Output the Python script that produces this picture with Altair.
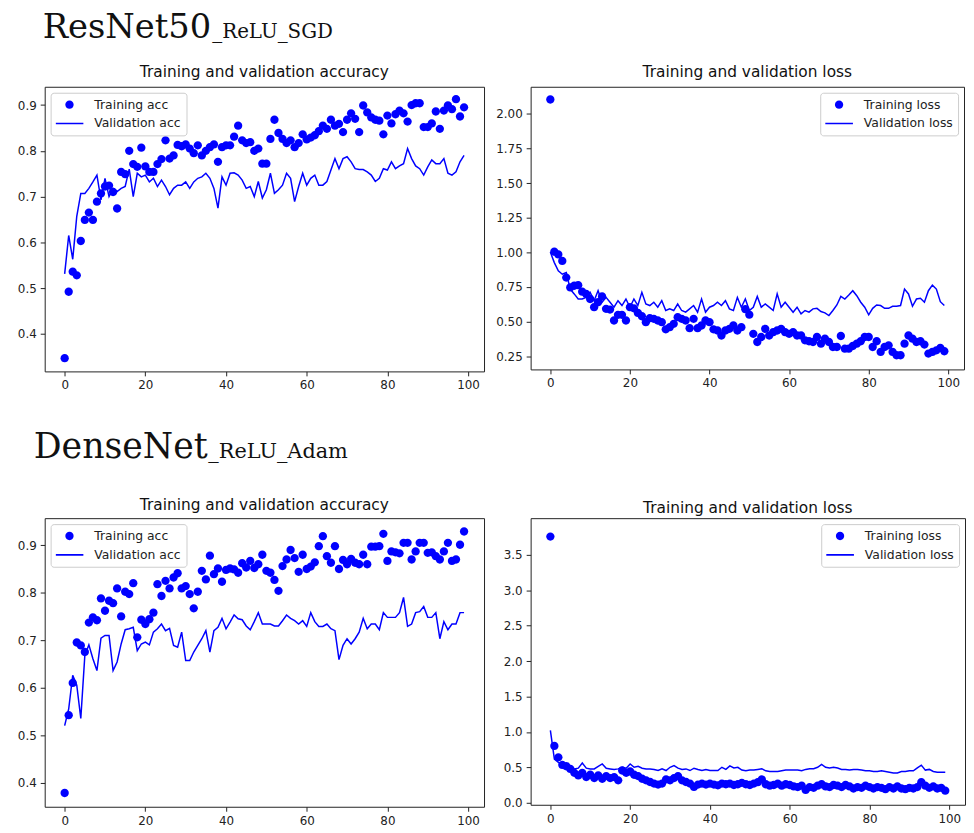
import altair as alt
import pandas as pd

EPOCHS = list(range(100))

RESNET_TRAIN_ACC = [
    0.347, 0.492, 0.536, 0.528, 0.603, 0.649, 0.665, 0.649, 0.689, 0.707,
    0.722, 0.724, 0.710, 0.674, 0.754, 0.749, 0.800, 0.771, 0.765, 0.807,
    0.766, 0.754, 0.754, 0.771, 0.782, 0.823, 0.783, 0.790, 0.813, 0.810,
    0.814, 0.805, 0.795, 0.812, 0.790, 0.800, 0.808, 0.814, 0.776, 0.808,
    0.812, 0.812, 0.831, 0.855, 0.823, 0.817, 0.819, 0.800, 0.805, 0.772,
    0.772, 0.826, 0.868, 0.839, 0.826, 0.817, 0.823, 0.808, 0.817, 0.836,
    0.825, 0.829, 0.834, 0.843, 0.855, 0.848, 0.868, 0.855, 0.859, 0.841,
    0.868, 0.882, 0.870, 0.841, 0.899, 0.884, 0.873, 0.868, 0.866, 0.836,
    0.877, 0.860, 0.880, 0.888, 0.882, 0.864, 0.900, 0.904, 0.904, 0.852,
    0.852, 0.860, 0.886, 0.848, 0.888, 0.899, 0.891, 0.913, 0.875, 0.895,
]
RESNET_VAL_ACC = [
    0.531, 0.615, 0.563, 0.657, 0.707, 0.707, 0.718, 0.732, 0.747, 0.693,
    0.740, 0.700, 0.718, 0.711, 0.718, 0.722, 0.760, 0.700, 0.751, 0.743,
    0.747, 0.732, 0.740, 0.722, 0.736, 0.722, 0.704, 0.718, 0.725, 0.725,
    0.732, 0.718, 0.732, 0.740, 0.743, 0.751, 0.740, 0.718, 0.675, 0.743,
    0.725, 0.751, 0.752, 0.747, 0.736, 0.718, 0.722, 0.700, 0.733, 0.697,
    0.715, 0.751, 0.707, 0.715, 0.725, 0.751, 0.740, 0.689, 0.722, 0.751,
    0.725, 0.740, 0.747, 0.725, 0.725, 0.733, 0.758, 0.783, 0.761, 0.783,
    0.787, 0.776, 0.761, 0.759, 0.759, 0.754, 0.747, 0.733, 0.740, 0.761,
    0.758, 0.776, 0.761, 0.767, 0.772, 0.805, 0.783, 0.767, 0.761, 0.747,
    0.765, 0.780, 0.772, 0.772, 0.783, 0.751, 0.747, 0.754, 0.776, 0.790,
]
RESNET_TRAIN_LOSS = [
    2.103, 1.005, 0.985, 0.938, 0.818, 0.747, 0.759, 0.763, 0.716, 0.700,
    0.663, 0.604, 0.640, 0.682, 0.592, 0.587, 0.508, 0.549, 0.549, 0.508,
    0.604, 0.596, 0.563, 0.539, 0.496, 0.525, 0.520, 0.508, 0.496, 0.444,
    0.460, 0.484, 0.532, 0.520, 0.508, 0.453, 0.520, 0.453, 0.472, 0.508,
    0.496, 0.444, 0.436, 0.400, 0.436, 0.448, 0.472, 0.436, 0.460, 0.590,
    0.550, 0.412, 0.353, 0.389, 0.448, 0.400, 0.424, 0.436, 0.448, 0.424,
    0.412, 0.424, 0.400, 0.400, 0.365, 0.358, 0.353, 0.389, 0.341, 0.377,
    0.353, 0.317, 0.317, 0.396, 0.305, 0.305, 0.324, 0.341, 0.358, 0.389,
    0.389, 0.317, 0.358, 0.281, 0.317, 0.329, 0.281, 0.257, 0.257, 0.341,
    0.400, 0.377, 0.353, 0.358, 0.334, 0.269, 0.281, 0.293, 0.310, 0.286,
]
RESNET_VAL_LOSS = [
    1.002, 0.926, 0.866, 0.842, 0.854, 0.735, 0.700, 0.663, 0.663, 0.675,
    0.711, 0.651, 0.723, 0.640, 0.675, 0.640, 0.604, 0.651, 0.616, 0.663,
    0.604, 0.663, 0.616, 0.711, 0.627, 0.616, 0.640, 0.604, 0.651, 0.580,
    0.592, 0.580, 0.627, 0.580, 0.568, 0.592, 0.616, 0.568, 0.663, 0.568,
    0.604, 0.616, 0.640, 0.616, 0.651, 0.592, 0.580, 0.675, 0.604, 0.663,
    0.580, 0.604, 0.682, 0.604, 0.627, 0.604, 0.580, 0.700, 0.604, 0.640,
    0.604, 0.568, 0.604, 0.556, 0.580, 0.568, 0.592, 0.596, 0.573, 0.563,
    0.544, 0.580, 0.620, 0.682, 0.663, 0.692, 0.723, 0.687, 0.640, 0.604,
    0.549, 0.596, 0.620, 0.616, 0.596, 0.596, 0.611, 0.611, 0.616, 0.735,
    0.700, 0.611, 0.663, 0.668, 0.640, 0.723, 0.763, 0.735, 0.644, 0.616,
]
DENSENET_TRAIN_ACC = [
    0.378, 0.542, 0.610, 0.695, 0.689, 0.675, 0.737, 0.748, 0.742, 0.788,
    0.762, 0.783, 0.778, 0.809, 0.750, 0.802, 0.797, 0.820, 0.706, 0.743,
    0.734, 0.744, 0.758, 0.818, 0.793, 0.825, 0.809, 0.832, 0.841, 0.809,
    0.814, 0.797, 0.767, 0.802, 0.846, 0.828, 0.878, 0.839, 0.851, 0.823,
    0.848, 0.851, 0.849, 0.842, 0.862, 0.853, 0.867, 0.852, 0.860, 0.880,
    0.846, 0.842, 0.827, 0.804, 0.856, 0.870, 0.890, 0.873, 0.844, 0.880,
    0.850, 0.855, 0.864, 0.898, 0.919, 0.877, 0.863, 0.898, 0.850, 0.869,
    0.860, 0.871, 0.863, 0.860, 0.880, 0.860, 0.897, 0.897, 0.898, 0.924,
    0.867, 0.887, 0.885, 0.883, 0.905, 0.905, 0.870, 0.887, 0.905, 0.905,
    0.884, 0.885, 0.877, 0.870, 0.887, 0.905, 0.867, 0.870, 0.901, 0.929,
]
DENSENET_VAL_ACC = [
    0.520, 0.555, 0.626, 0.605, 0.535, 0.668, 0.690, 0.661, 0.636, 0.704,
    0.710, 0.710, 0.636, 0.654, 0.692, 0.722, 0.724, 0.727, 0.678, 0.692,
    0.696, 0.690, 0.717, 0.724, 0.734, 0.720, 0.725, 0.689, 0.685, 0.717,
    0.657, 0.657, 0.675, 0.689, 0.703, 0.720, 0.675, 0.720, 0.727, 0.746,
    0.724, 0.738, 0.753, 0.745, 0.743, 0.730, 0.722, 0.739, 0.758, 0.734,
    0.734, 0.734, 0.730, 0.730, 0.741, 0.753, 0.746, 0.741, 0.734, 0.741,
    0.729, 0.758, 0.739, 0.729, 0.729, 0.734, 0.724, 0.720, 0.659, 0.689,
    0.703, 0.692, 0.703, 0.717, 0.746, 0.724, 0.734, 0.734, 0.722, 0.758,
    0.748, 0.748, 0.748, 0.758, 0.790, 0.729, 0.734, 0.758, 0.760, 0.771,
    0.748, 0.748, 0.758, 0.703, 0.739, 0.722, 0.734, 0.734, 0.758, 0.758,
]
DENSENET_TRAIN_LOSS = [
    3.760, 0.802, 0.640, 0.533, 0.514, 0.477, 0.422, 0.385, 0.422, 0.361,
    0.394, 0.347, 0.385, 0.338, 0.375, 0.347, 0.361, 0.315, 0.454, 0.422,
    0.440, 0.394, 0.375, 0.338, 0.315, 0.292, 0.269, 0.255, 0.269, 0.329,
    0.315, 0.347, 0.375, 0.315, 0.292, 0.269, 0.222, 0.255, 0.269, 0.255,
    0.269, 0.255, 0.245, 0.269, 0.260, 0.270, 0.250, 0.260, 0.280, 0.260,
    0.250, 0.270, 0.290, 0.330, 0.260, 0.240, 0.250, 0.270, 0.240, 0.260,
    0.250, 0.230, 0.220, 0.240, 0.180, 0.220, 0.210, 0.240, 0.260, 0.230,
    0.220, 0.250, 0.240, 0.220, 0.250, 0.230, 0.200, 0.220, 0.210, 0.240,
    0.220, 0.200, 0.220, 0.210, 0.190, 0.220, 0.200, 0.230, 0.200, 0.190,
    0.210, 0.200, 0.220, 0.290, 0.240, 0.210, 0.230, 0.200, 0.210, 0.170,
]
DENSENET_VAL_LOSS = [
    1.020, 0.616, 0.570, 0.547, 0.524, 0.500, 0.477, 0.487, 0.560, 0.487,
    0.477, 0.477, 0.514, 0.547, 0.487, 0.477, 0.468, 0.477, 0.500, 0.487,
    0.547, 0.500, 0.514, 0.487, 0.477, 0.477, 0.468, 0.454, 0.477, 0.454,
    0.500, 0.524, 0.487, 0.468, 0.477, 0.454, 0.487, 0.468, 0.454, 0.468,
    0.454, 0.454, 0.454, 0.500, 0.470, 0.520, 0.490, 0.500, 0.460, 0.450,
    0.460, 0.460, 0.470, 0.480, 0.450, 0.440, 0.440, 0.440, 0.450, 0.460,
    0.460, 0.460, 0.460, 0.450, 0.470, 0.480, 0.480, 0.500, 0.540, 0.500,
    0.490, 0.500, 0.490, 0.470, 0.470, 0.460, 0.470, 0.470, 0.460, 0.450,
    0.450, 0.440, 0.440, 0.450, 0.440, 0.430, 0.420, 0.420, 0.440, 0.440,
    0.450, 0.450, 0.490, 0.530, 0.460, 0.470, 0.440, 0.430, 0.430, 0.430,
]

X_TICKS = [0, 20, 40, 60, 80, 100]
ACC_TICKS = [0.4, 0.5, 0.6, 0.7, 0.8, 0.9]
RESNET_LOSS_TICKS = [0.25, 0.5, 0.75, 1.0, 1.25, 1.5, 1.75, 2.0]
DENSENET_LOSS_TICKS = [0.0, 0.5, 1.0, 1.5, 2.0, 2.5, 3.0, 3.5]

ACC_NAMES = ["Training acc", "Validation acc"]
LOSS_NAMES = ["Training loss", "Validation loss"]
ACC_TITLE = "Training and validation accuracy"
LOSS_TITLE = "Training and validation loss"

BLUE = "#0000ff"
DOT = "M-0.3,0A0.3,0.3,0,1,0,0.3,0A0.3,0.3,0,1,0,-0.3,0Z"
DASH = "M-1,-0.055H1V0.055H-1Z"

AX = dict(title=None, grid=False, domain=False, ticks=True, tickSize=4.5,
          tickColor="#222222", tickWidth=1, labelFont="DejaVu Sans",
          labelFontSize=12, labelColor="#222222", labelPadding=4,
          labelOverlap=False, labelFlush=False)


def text_layer(txt, x, y, font, size, align="left"):
    return alt.Chart(pd.DataFrame({"t": [txt]})).mark_text(
        font=font, fontSize=size, align=align, baseline="alphabetic",
        color="#111111").encode(x=alt.value(x), y=alt.value(y), text="t:N")


def panel(train, val, names, ydom, yticks, yfmt, w, h, lorient, title, title_y,
          heading=None):
    tdf = pd.DataFrame({"epoch": EPOCHS, "value": train, "series": names[0]})
    vdf = pd.DataFrame({"epoch": EPOCHS, "value": val, "series": names[1]})
    x = alt.X("epoch:Q",
              scale=alt.Scale(domain=[-4.95, 103.95], nice=False, zero=False),
              axis=alt.Axis(values=X_TICKS, format="d", **AX))
    y = alt.Y("value:Q",
              scale=alt.Scale(domain=ydom, nice=False, zero=False),
              axis=alt.Axis(values=yticks, format=yfmt, **AX))
    leg = alt.Legend(title=None, orient=lorient, offset=6, padding=5,
                     labelFont="DejaVu Sans", labelFontSize=12.5,
                     labelColor="#222222", labelOffset=11, symbolSize=784,
                     clipHeight=14, rowPadding=5, strokeColor="#cccccc",
                     fillColor="white", cornerRadius=3, symbolOpacity=1,
                     symbolStrokeWidth=0)
    pts = alt.Chart(tdf).mark_point(filled=True, size=784, opacity=1,
                                    strokeWidth=0).encode(
        x=x, y=y,
        color=alt.Color("series:N", scale=alt.Scale(domain=names, range=[BLUE, BLUE]),
                        legend=leg),
        shape=alt.Shape("series:N", scale=alt.Scale(domain=names, range=[DOT, DASH]),
                        legend=leg),
    )
    line = alt.Chart(vdf).mark_line(color=BLUE, strokeWidth=1.5).encode(
        x="epoch:Q", y="value:Q")
    layers = [pts, line, text_layer(title, w / 2, title_y, "DejaVu Sans", 15.5, "center")]
    if heading:
        for (txt, hx, hy, hs) in heading:
            layers.append(text_layer(txt, hx, hy, "DejaVu Serif", hs))
    return alt.layer(*layers).properties(width=w, height=h)


tl = panel(RESNET_TRAIN_ACC, RESNET_VAL_ACC, ACC_NAMES, [0.318, 0.94], ACC_TICKS,
           ".1f", 443, 287, "top-left", ACC_TITLE, -9.5,
           heading=[("ResNet50", -2, -49, 34), ("_ReLU_SGD", 169, -49, 20)])
tr = panel(RESNET_TRAIN_LOSS, RESNET_VAL_LOSS, LOSS_NAMES, [0.155, 2.195],
           RESNET_LOSS_TICKS, ".2f", 437, 285, "top-right", LOSS_TITLE, -9.5)
bl = panel(DENSENET_TRAIN_ACC, DENSENET_VAL_ACC, ACC_NAMES, [0.349, 0.957], ACC_TICKS,
           ".1f", 443, 291, "top-left", ACC_TITLE, -8.3,
           heading=[("DenseNet", -11, -60.3, 35), ("_ReLU_Adam", 165, -60.3, 21)])
br = panel(DENSENET_TRAIN_LOSS, DENSENET_VAL_LOSS, LOSS_NAMES, [-0.03, 4.02],
           DENSENET_LOSS_TICKS, ".1f", 438, 289, "top-right", LOSS_TITLE, -5)

chart = alt.ConcatChart(
    concat=[tl, tr, bl, br], columns=2,
    spacing=alt.RowColnumber(row=148, column=47),
    bounds="flush",
    padding={"left": 8, "top": -1, "right": 0, "bottom": 0},
).resolve_scale(
    x="independent", y="independent", color="independent", shape="independent"
).resolve_legend(color="independent", shape="independent").configure(
    background="white"
).configure_view(stroke="#222222", strokeWidth=1)

chart.save("out.html", embed_options={"renderer": "svg", "actions": False})
